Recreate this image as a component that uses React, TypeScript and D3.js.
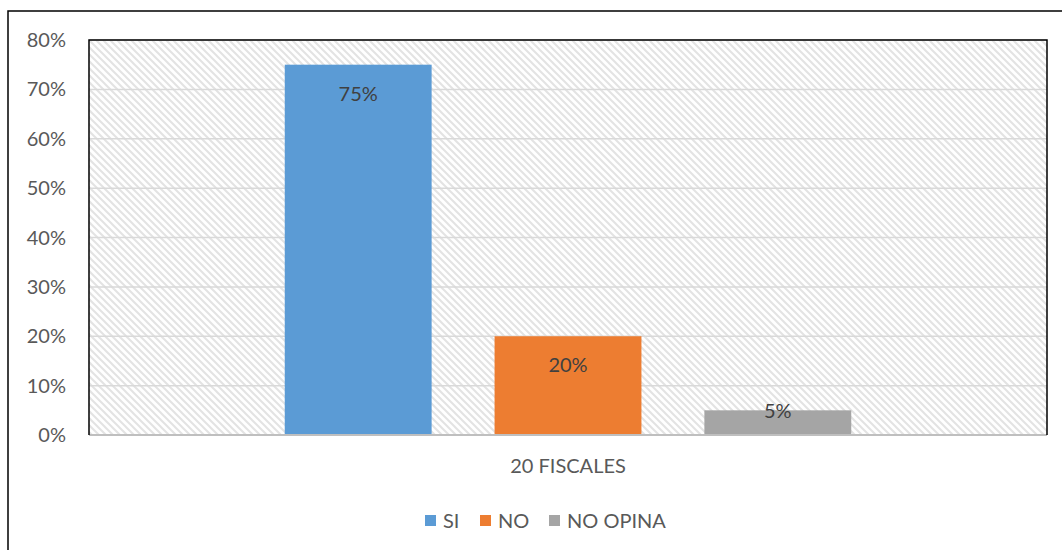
import React from "react";
import * as d3 from "d3";

const categories = ["SI", "NO", "NO OPINA"];
const values = [0.75, 0.2, 0.05];
const colors = ["#5b9bd5", "#ed7d31", "#a5a5a5"];
const yTicks = [0, 0.1, 0.2, 0.3, 0.4, 0.5, 0.6, 0.7, 0.8];
const groupLabel = "20 FISCALES";

const W = 1062;
const H = 550;
const plot = { left: 89, top: 40, right: 1047, bottom: 435 };
const font = "Lato, 'Open Sans', sans-serif";
const fs = 20;

export default function App() {
  const y = d3.scaleLinear().domain([0, 0.8]).range([plot.bottom, plot.top]);
  const x = d3.scaleBand().domain(categories).range([plot.left, plot.right]).paddingInner(0.3).paddingOuter(0.933);
  const fmt = d3.format(".0%");

  const legendItems = [
    { label: "SI", x: 425 },
    { label: "NO", x: 480 },
    { label: "NO OPINA", x: 549 },
  ];

  return (
    <svg width={W} height={H} style={{ position: "absolute", left: 0, top: 0, background: "#fff" }}>
      <defs>
        <pattern id="hatch" width="7" height="7" patternUnits="userSpaceOnUse">
          <rect width="7" height="7" fill="#ffffff" />
          <path d="M-2,-2 L9,9 M-2,5 L2,9 M5,-2 L9,2" stroke="#e3e3e3" strokeWidth="2" />
        </pattern>
      </defs>
      {/* chart frame */}
      <rect x={8} y={11} width={W + 20} height={H + 20} fill="none" stroke="#000" strokeWidth={1.5} />
      {/* plot background */}
      <rect x={plot.left} y={plot.top} width={plot.right - plot.left} height={plot.bottom - plot.top} fill="url(#hatch)" />
      {/* grid */}
      {yTicks.map((t) => (
        <line key={t} x1={plot.left} x2={plot.right} y1={y(t)} y2={y(t)} stroke="#d9d9d9" strokeWidth={1.5} />
      ))}
      {/* y labels */}
      {yTicks.map((t) => (
        <text key={"l" + t} x={66} y={y(t)} dy="0.35em" textAnchor="end" fontFamily={font} fontSize={fs} fill="#595959">
          {fmt(t)}
        </text>
      ))}
      {/* bars */}
      {categories.map((c, i) => (
        <rect key={c} x={x(c)} y={y(values[i])} width={x.bandwidth()} height={y(0) - y(values[i])} fill={colors[i]} />
      ))}
      {/* bar value labels */}
      {categories.map((c, i) => {
        const top = y(values[i]);
        const h = y(0) - top;
        const ly = h > 50 ? top + 29 : top + 1;
        return (
          <text key={"v" + c} x={x(c)! + x.bandwidth() / 2} y={ly} dy="0.35em" textAnchor="middle" fontFamily={font} fontSize={fs} fill="#404040">
            {fmt(values[i])}
          </text>
        );
      })}
      {/* axis line */}
      <line x1={plot.left} x2={plot.right} y1={plot.bottom} y2={plot.bottom} stroke="#bfbfbf" strokeWidth={2} />
      {/* plot border (left, top, right) */}
      <path
        d={`M${plot.left},${plot.bottom} V${plot.top} H${plot.right} V${plot.bottom}`}
        fill="none"
        stroke="#000"
        strokeWidth={1.5}
      />
      {/* category label */}
      <text x={(plot.left + plot.right) / 2} y={466} dy="0.35em" textAnchor="middle" fontFamily={font} fontSize={fs} fill="#595959">
        {groupLabel}
      </text>
      {/* legend */}
      {legendItems.map((it, i) => (
        <g key={it.label}>
          <rect x={it.x} y={515} width={11} height={11} fill={colors[i]} />
          <text x={it.x + 18} y={521} dy="0.35em" fontFamily={font} fontSize={fs} fill="#595959">
            {it.label}
          </text>
        </g>
      ))}
    </svg>
  );
}
